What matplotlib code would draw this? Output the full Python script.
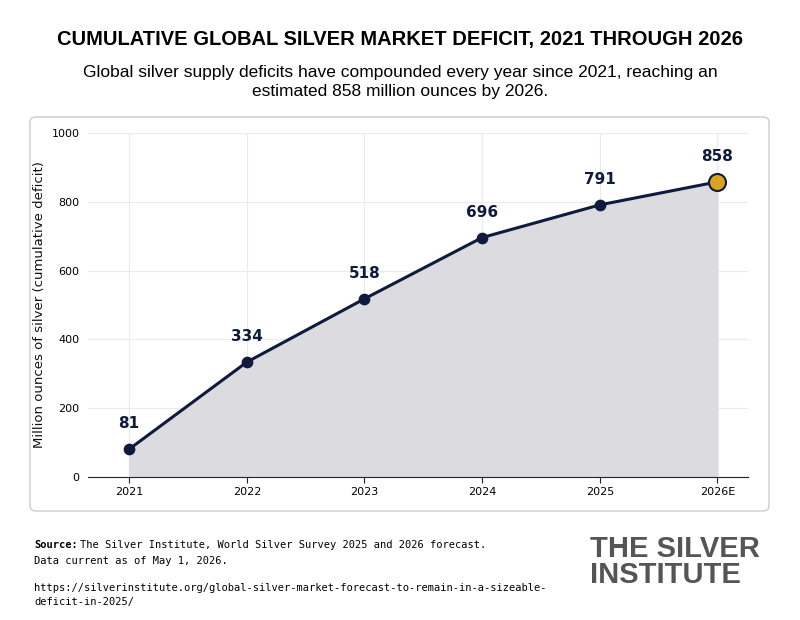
import matplotlib
matplotlib.use("Agg")
import matplotlib.pyplot as plt
from matplotlib.patches import FancyBboxPatch

years = ["2021", "2022", "2023", "2024", "2025", "2026E"]
deficit = [81, 334, 518, 696, 791, 858]
yticks = [0, 200, 400, 600, 800, 1000]

navy = "#0f1a3c"
fig = plt.figure(figsize=(8, 6.2), dpi=100)
fig.patch.set_facecolor("white")

box = FancyBboxPatch((30/800, 1-511/620), 739/800, 394/620, boxstyle="round,pad=0,rounding_size=0.008",
                     transform=fig.transFigure, facecolor="white", edgecolor="#cccccc", lw=1, zorder=-10)
fig.patches.append(box)

ax = fig.add_axes([88/800, 1-477/620, 660/800, 344/620])
ax.set_zorder(5)
ax.patch.set_alpha(0)
x = list(range(len(years)))
ax.fill_between(x, deficit, 0, color="#dcdbe0", zorder=1)
ax.plot(x, deficit, color=navy, lw=2.2, zorder=3)
ax.scatter(x[:-1], deficit[:-1], s=55, color=navy, zorder=4)
ax.scatter(x[-1:], deficit[-1:], s=150, color="#d9a521", edgecolor=navy, lw=1.5, zorder=5)
for xi, v in zip(x, deficit):
    ax.annotate(str(v), (xi, v), xytext=(0, 13), textcoords="offset points", ha="center",
                va="bottom", fontsize=11, fontweight="bold", color=navy)
ax.set_xlim(-0.35, 5.26)
ax.set_ylim(0, 1000)
ax.set_xticks(x)
ax.set_xticklabels(years, fontsize=8)
ax.set_yticks(yticks)
ax.set_yticklabels([str(t) for t in yticks], fontsize=8)
ax.grid(True, color="#ebebeb", lw=0.8, zorder=0)
ax.set_axisbelow(True)
for s in ["top", "right", "left"]:
    ax.spines[s].set_visible(False)
ax.spines["bottom"].set_color("#222222")
ax.tick_params(axis="y", length=0, pad=6)
ax.tick_params(axis="x", length=4, color="#222222")
ax.set_ylabel("Million ounces of silver (cumulative deficit)", fontsize=9.5, color="#111111")

fig.text(0.5, 1-40/620, "CUMULATIVE GLOBAL SILVER MARKET DEFICIT, 2021 THROUGH 2026",
         ha="center", va="center", fontsize=14.5, fontweight="bold", family="Liberation Sans")
fig.text(0.5, 1-82/620, "Global silver supply deficits have compounded every year since 2021, reaching an\nestimated 858 million ounces by 2026.",
         ha="center", va="center", fontsize=12.5, linespacing=1.35, family="Liberation Sans")

mono = "DejaVu Sans Mono"
fig.text(34/800, 1-545/620, "Source:", fontsize=7.5, family=mono, fontweight="bold", va="center")
fig.text(80/800, 1-545/620, "The Silver Institute, World Silver Survey 2025 and 2026 forecast.",
         fontsize=7.5, family=mono, va="center")
fig.text(34/800, 1-561/620, "Data current as of May 1, 2026.", fontsize=7.5, family=mono, va="center")
fig.text(34/800, 1-583/620, "https://silverinstitute.org/global-silver-market-forecast-to-remain-in-a-sizeable-\ndeficit-in-2025/",
         fontsize=7.5, family=mono, va="top", linespacing=1.5)
fig.text(590/800, 1-562/620, "THE SILVER\nINSTITUTE", ha="left", va="center", fontsize=21,
         fontweight="bold", color="#555555", family="Liberation Sans", linespacing=0.95)

fig.savefig("out.png", dpi=100)
